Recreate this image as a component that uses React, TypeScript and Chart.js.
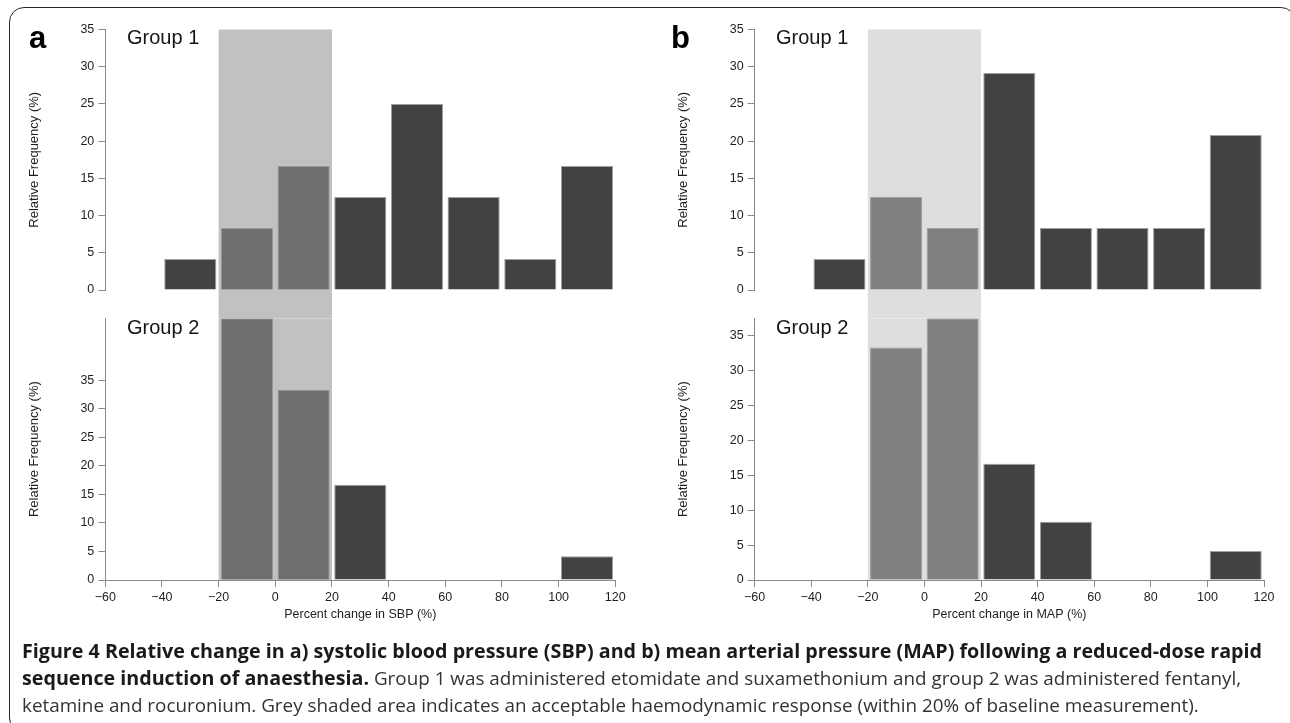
import React, { useEffect, useRef } from 'react';
import { Chart, registerables } from 'chart.js';

Chart.register(...registerables);

// ---------- data ----------
const binCenters = [-30, -10, 10, 30, 50, 70, 90, 110];
const xTickValues = [-60, -40, -20, 0, 20, 40, 60, 80, 100, 120];
const yTickValues = [0, 5, 10, 15, 20, 25, 30, 35];
const acceptableRange = [-20, 20];

const sbpGroup1 = [4.17, 8.33, 16.67, 12.5, 25, 12.5, 4.17, 16.67];
const sbpGroup2 = [0, 45.83, 33.33, 16.67, 0, 0, 0, 4.17];
const mapGroup1 = [4.17, 12.5, 8.33, 29.17, 8.33, 8.33, 8.33, 20.83];
const mapGroup2 = [0, 33.33, 37.5, 16.67, 8.33, 0, 0, 4.17];

const FONT = "'Liberation Sans', Arial, Helvetica, sans-serif";
const AXIS_COLOR = '#8a8a8a';
const TEXT_COLOR = '#1e1e1e';
const DARK_BAR = '#424242';

Chart.defaults.font.family = FONT;

const shadePlugin = {
  id: 'shade',
  beforeDatasetsDraw(chart: any, _args: any, opts: any) {
    const { ctx, chartArea, scales } = chart;
    const x0 = scales.x.getPixelForValue(opts.from);
    const x1 = scales.x.getPixelForValue(opts.to);
    const bottom = opts.toCanvasBottom ? chart.height : chartArea.bottom;
    ctx.save();
    ctx.fillStyle = opts.color;
    ctx.fillRect(x0, chartArea.top, x1 - x0, bottom - chartArea.top);
    ctx.restore();
  },
};

type HistProps = {
  values: number[];
  left: number;
  top: number;
  width: number;
  height: number;
  padLeft: number;
  padRight: number;
  padTop: number;
  padBottom: number;
  yAxisWidth: number;
  showX: boolean;
  xTitle?: string;
  xAxisHeight?: number;
  shadeColor: string;
  midColor: string;
  yMax: number;
  toCanvasBottom: boolean;
};

function Hist(p: HistProps) {
  const ref = useRef<HTMLCanvasElement>(null);
  useEffect(() => {
    const inRange = (x: number) => x > acceptableRange[0] && x < acceptableRange[1];
    const chart = new Chart(ref.current as HTMLCanvasElement, {
      type: 'bar',
      data: {
        datasets: [
          {
            data: binCenters.map((x, i) => ({ x, y: p.values[i] })),
            backgroundColor: (c: any) => (c.raw && inRange(c.raw.x) ? p.midColor : DARK_BAR),
            borderColor: 'rgba(150,150,150,0.9)',
            borderWidth: (c: any) => (c.raw && c.raw.y > 0 ? 1 : 0),
            barPercentage: 0.92,
            categoryPercentage: 1,
          } as any,
        ],
      },
      options: {
        responsive: false,
        animation: false,
        devicePixelRatio: 1,
        layout: {
          padding: { left: p.padLeft, right: p.padRight, top: p.padTop, bottom: p.padBottom },
        },
        plugins: {
          legend: { display: false },
          tooltip: { enabled: false },
          shade: {
            from: acceptableRange[0],
            to: acceptableRange[1],
            color: p.shadeColor,
            toCanvasBottom: p.toCanvasBottom,
          },
        } as any,
        scales: {
          x: {
            type: 'linear',
            display: p.showX,
            min: xTickValues[0],
            max: xTickValues[xTickValues.length - 1],
            offset: false,
            afterBuildTicks: (s: any) => {
              s.ticks = xTickValues.map((v) => ({ value: v }));
            },
            afterFit: (s: any) => {
              if (p.xAxisHeight) s.height = p.xAxisHeight;
            },
            grid: {
              offset: false,
              drawOnChartArea: false,
              drawTicks: true,
              tickLength: 7,
              color: AXIS_COLOR,
              lineWidth: 1,
            },
            border: { display: true, color: AXIS_COLOR, width: 1 },
            ticks: {
              maxRotation: 0,
              autoSkip: false,
              padding: 3,
              color: TEXT_COLOR,
              font: { size: 12.5, family: FONT },
              callback: (v: any) => (v < 0 ? '\u2212' + Math.abs(v) : String(v)),
            },
            title: {
              display: !!p.xTitle,
              text: p.xTitle || '',
              color: TEXT_COLOR,
              font: { size: 12.5, family: FONT },
              padding: { top: 4, bottom: 18 },
            },
          },
          y: {
            type: 'linear',
            min: 0,
            max: p.yMax,
            afterBuildTicks: (s: any) => {
              s.ticks = yTickValues.map((v) => ({ value: v }));
            },
            afterFit: (s: any) => {
              s.width = p.yAxisWidth;
            },
            grid: {
              drawOnChartArea: false,
              drawTicks: true,
              tickLength: 7,
              color: AXIS_COLOR,
              lineWidth: 1,
            },
            border: { display: true, color: AXIS_COLOR, width: 1 },
            ticks: {
              padding: 4,
              color: TEXT_COLOR,
              font: { size: 12.5, family: FONT },
            },
            title: {
              display: true,
              text: 'Relative Frequency (%)',
              color: TEXT_COLOR,
              font: { size: 13, family: FONT },
              padding: { top: 0, bottom: 0 },
            },
          },
        },
      } as any,
      plugins: [shadePlugin as any],
    });
    return () => chart.destroy();
  }, []);
  return (
    <canvas
      ref={ref}
      width={p.width}
      height={p.height}
      style={{ position: 'absolute', left: p.left, top: p.top, width: p.width, height: p.height }}
    />
  );
}

const textBase: React.CSSProperties = { position: 'absolute', whiteSpace: 'nowrap', color: '#111' };

function Panel(props: {
  left: number;
  width: number;
  padLeft: number;
  padRight: number;
  yAxisWidth: number;
  g1: number[];
  g2: number[];
  xTitle: string;
  shadeColor: string;
  midColor: string;
}) {
  const common = {
    left: props.left,
    width: props.width,
    padLeft: props.padLeft,
    padRight: props.padRight,
    yAxisWidth: props.yAxisWidth,
    shadeColor: props.shadeColor,
    midColor: props.midColor,
  };
  return (
    <>
      <Hist
        {...common}
        values={props.g1}
        top={0}
        height={318}
        padTop={29.5}
        padBottom={28}
        showX={false}
        yMax={35}
        toCanvasBottom={true}
      />
      <Hist
        {...common}
        values={props.g2}
        top={300}
        height={340}
        padTop={18.3}
        padBottom={0}
        showX={true}
        xTitle={props.xTitle}
        xAxisHeight={60}
        yMax={Math.max(...props.g2)}
        toCanvasBottom={false}
      />
    </>
  );
}

export default function App() {
  const groupStyle: React.CSSProperties = {
    ...textBase,
    fontFamily: FONT,
    fontSize: 20,
    lineHeight: '20px',
    color: '#151515',
  };
  const letterStyle: React.CSSProperties = {
    ...textBase,
    fontFamily: FONT,
    fontSize: 31,
    lineHeight: '31px',
    fontWeight: 700,
    color: '#000',
  };
  const capBase: React.CSSProperties = {
    ...textBase,
    left: 22,
    fontFamily: "'Open Sans', sans-serif",
    fontSize: 19.7,
    lineHeight: '20px',
  };
  const bold: React.CSSProperties = { fontWeight: 700, color: '#1a1a1a', fontSize: 19.7 };
  const reg: React.CSSProperties = { fontWeight: 400, color: '#333', fontSize: 18.85 };
  return (
    <div
      style={{
        position: 'fixed',
        left: 0,
        top: 0,
        width: 1290,
        height: 723,
        overflow: 'hidden',
        background: '#fff',
      }}
    >
      <div
        style={{
          position: 'absolute',
          left: 9,
          top: 7,
          width: 1287,
          height: 726,
          border: '1.5px solid #2a2a2a',
          borderRadius: 15,
          boxSizing: 'border-box',
        }}
      />
      <Panel
        left={0}
        width={645}
        padLeft={26.7}
        padRight={29.7}
        yAxisWidth={78.6}
        g1={sbpGroup1}
        g2={sbpGroup2}
        xTitle="Percent change in SBP (%)"
        shadeColor="#c1c1c1"
        midColor="#6e6e6e"
      />
      <Panel
        left={650}
        width={640}
        padLeft={25.7}
        padRight={26}
        yAxisWidth={78.9}
        g1={mapGroup1}
        g2={mapGroup2}
        xTitle="Percent change in MAP (%)"
        shadeColor="#dedede"
        midColor="#808080"
      />
      <div style={{ ...letterStyle, left: 29, top: 22 }}>a</div>
      <div style={{ ...letterStyle, left: 671, top: 22 }}>b</div>
      <div style={{ ...groupStyle, left: 127, top: 27.4 }}>Group 1</div>
      <div style={{ ...groupStyle, left: 127, top: 317.4 }}>Group 2</div>
      <div style={{ ...groupStyle, left: 776, top: 27.4 }}>Group 1</div>
      <div style={{ ...groupStyle, left: 776, top: 317.4 }}>Group 2</div>
      <div style={{ ...capBase, top: 641 }}>
        <span style={bold}>
          Figure 4 Relative change in a) systolic blood pressure (SBP) and b) mean arterial pressure (MAP) following a reduced-dose rapid
        </span>
      </div>
      <div style={{ ...capBase, top: 668 }}>
        <span style={bold}>sequence induction of anaesthesia.</span>
        <span style={reg}>
          {' '}Group 1 was administered etomidate and suxamethonium and group 2 was administered fentanyl,
        </span>
      </div>
      <div style={{ ...capBase, top: 694.5 }}>
        <span style={reg}>
          ketamine and rocuronium. Grey shaded area indicates an acceptable haemodynamic response (within 20% of baseline measurement).
        </span>
      </div>
    </div>
  );
}
